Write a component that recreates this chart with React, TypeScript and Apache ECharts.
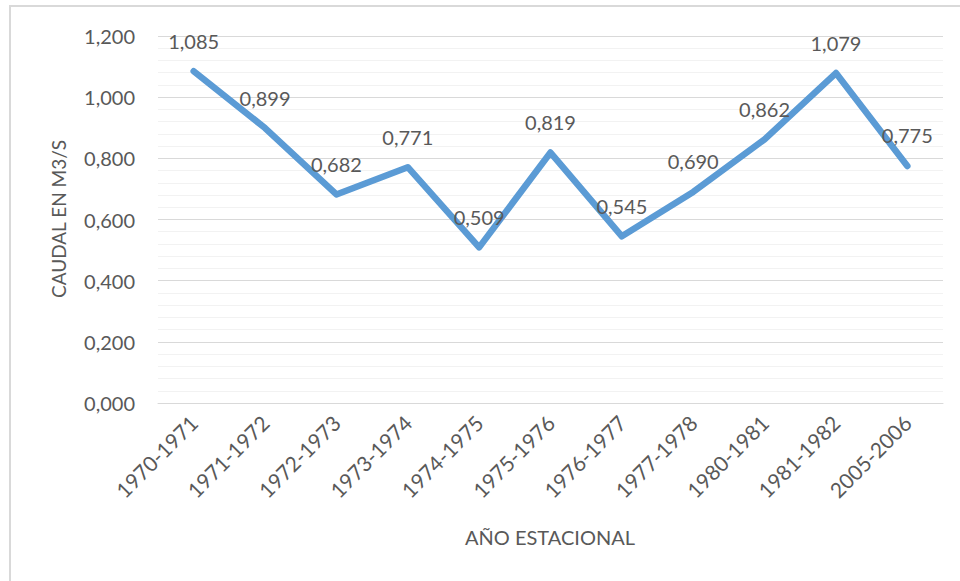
import React, { useEffect, useRef } from "react";
import * as echarts from "echarts";

const categories = [
  "1970-1971", "1971-1972", "1972-1973", "1973-1974", "1974-1975", "1975-1976",
  "1976-1977", "1977-1978", "1980-1981", "1981-1982", "2005-2006",
];
const caudal = [1.085, 0.899, 0.682, 0.771, 0.509, 0.819, 0.545, 0.69, 0.862, 1.079, 0.775];
const yTitle = "CAUDAL EN M3/S";
const xTitle = "AÑO ESTACIONAL";

const fmt = (v: number) => v.toFixed(3).replace(".", ",");
const FONT = "Lato";
const TXT = "#595959";

export default function App() {
  const ref = useRef<HTMLDivElement>(null);
  useEffect(() => {
    const chart = echarts.init(ref.current!, undefined, { renderer: "svg" });
    chart.setOption({
      animation: false,
      backgroundColor: "#ffffff",
      textStyle: { fontFamily: FONT },
      graphic: [
        {
          type: "rect",
          shape: { x: 10, y: 6, width: 1000, height: 1000 },
          style: { fill: "none", stroke: "#d9d9d9", lineWidth: 2 },
          silent: true,
        },
        {
          type: "text",
          x: 58,
          y: 219,
          rotation: Math.PI / 2,
          style: {
            text: yTitle,
            fill: TXT,
            font: `19px ${FONT}`,
            align: "center",
            verticalAlign: "middle",
          },
        },
        {
          type: "text",
          x: 550,
          y: 537,
          style: {
            text: xTitle,
            fill: TXT,
            font: `20px ${FONT}`,
            align: "center",
            verticalAlign: "middle",
          },
        },
      ],
      grid: { left: 158, right: 17, top: 36, bottom: 178, containLabel: false },
      xAxis: {
        type: "category",
        data: categories,
        boundaryGap: true,
        axisLine: { show: true, lineStyle: { color: "#d9d9d9", width: 1 } },
        axisTick: { show: false },
        axisLabel: {
          rotate: 45,
          color: TXT,
          fontFamily: FONT,
          fontSize: 21,
          margin: 16,
          interval: 0,
        },
      },
      yAxis: {
        type: "value",
        min: 0,
        max: 1.2,
        interval: 0.2,
        axisLine: { show: false },
        axisTick: { show: false },
        axisLabel: {
          color: TXT,
          fontFamily: FONT,
          fontSize: 20,
          margin: 23,
          formatter: (v: number) => fmt(v),
        },
        splitLine: { show: true, lineStyle: { color: "#d9d9d9", width: 1 } },
        minorTick: { show: false, splitNumber: 5 },
        minorSplitLine: { show: true, lineStyle: { color: "#f2f2f2", width: 1 } },
      },
      series: [
        {
          type: "line",
          data: caudal,
          showSymbol: true,
          symbol: "circle",
          symbolSize: 1,
          itemStyle: { color: "#5b9bd5" },
          lineStyle: { color: "#5b9bd5", width: 6.5, cap: "round", join: "round" },
          label: {
            show: true,
            position: "top",
            distance: 20,
            color: TXT,
            fontFamily: FONT,
            fontSize: 20,
            formatter: (p: any) => fmt(p.value),
          },
        },
      ],
    });
    return () => chart.dispose();
  }, []);
  return (
    <div
      ref={ref}
      style={{ position: "fixed", left: 0, top: 0, width: 960, height: 581 }}
    />
  );
}
